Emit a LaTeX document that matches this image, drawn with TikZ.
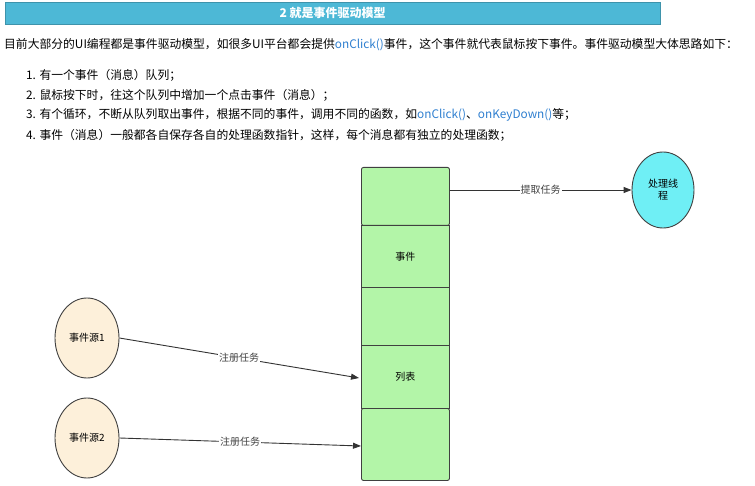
\documentclass[tikz,border=0pt]{standalone}
\usepackage{fontspec}
\setmainfont{Noto Sans CJK SC}
\usetikzlibrary{arrows.meta,shapes.geometric}
\definecolor{hdr}{HTML}{4DB8D6}
\definecolor{boxg}{HTML}{B3F5A8}
\definecolor{src}{HTML}{FDF0DA}
\definecolor{cyanc}{HTML}{6FEFF5}
\definecolor{oc}{HTML}{2F7FD0}
\tikzset{
 cell/.style={draw=black!75,fill=boxg,line width=0.9pt,minimum width=88pt,inner sep=0pt,font=\fontsize{10}{11}\selectfont},
 circ/.style={draw=black!75,ellipse,line width=0.9pt,minimum width=64pt,minimum height=80pt,inner sep=1pt,font=\fontsize{10}{12}\selectfont,align=center},
 conn/.style={draw=black!80,line width=0.9pt,-{Triangle[length=8pt,width=6pt]}},
 lbl/.style={fill=white,inner sep=1pt,font=\fontsize{10}{11}\selectfont,text=black!75},
 item/.style={anchor=west,inner sep=0pt,font=\fontsize{11.8}{13}\selectfont}
}
\begin{document}
\begin{tikzpicture}[x=1pt,y=-1pt]
\useasboundingbox (0,0) rectangle (755,486);
\fill[white] (0,0) rectangle (755,486);
\node[fill=hdr,draw=hdr!80!black,minimum width=655pt,minimum height=22pt,anchor=north west,text=white,font=\bfseries\fontsize{12}{13}\selectfont] (hd) at (5,2) {2 就是事件驱动模型};
\node[item] (p) at (4,45) {目前大部分的UI编程都是事件驱动模型，如很多UI平台都会提供\textcolor{oc}{onClick()}事件，这个事件就代表鼠标按下事件。事件驱动模型大体思路如下：};
\node[item] (i1) at (26,75) {1. 有一个事件（消息）队列；};
\node[item] (i2) at (26,95) {2. 鼠标按下时，往这个队列中增加一个点击事件（消息）；};
\node[item] (i3) at (26,115) {3. 有个循环，不断从队列取出事件，根据不同的事件，调用不同的函数，如\textcolor{oc}{onClick()}、\textcolor{oc}{onKeyDown()}等；};
\node[item] (i4) at (26,135) {4. 事件（消息）一般都各自保存各自的处理函数指针，这样，每个消息都有独立的处理函数；};
% queue
\node[cell,minimum height=58pt,anchor=north west,rounded corners=2pt] (c1) at (361,167) {};
\node[cell,minimum height=62pt,anchor=north west] (c2) at (361,225) {事件};
\node[cell,minimum height=58pt,anchor=north west] (c3) at (361,287) {};
\node[cell,minimum height=63pt,anchor=north west] (c4) at (361,345) {列表};
\node[cell,minimum height=72pt,anchor=north west,rounded corners=2pt] (c5) at (361,408) {};
\node[circ,fill=src] (s1) at (87,338) {事件源1};
\node[circ,fill=src] (s2) at (87,438) {事件源2};
\node[circ,fill=cyanc,minimum width=62pt,minimum height=76pt] (t) at (663,190) {处理线\\程};
\coordinate (a1) at (359,378);
\coordinate (a2) at (361,446);
\draw[conn] (s1.east) -- node[lbl,pos=0.5] {注册任务} (a1);
\draw[conn] (s2.east) -- node[lbl,pos=0.5] {注册任务} (a2);
\draw[conn] (c1.east |- t.west) -- node[lbl,pos=0.5] {提取任务} (t.west);
\end{tikzpicture}
\end{document}
